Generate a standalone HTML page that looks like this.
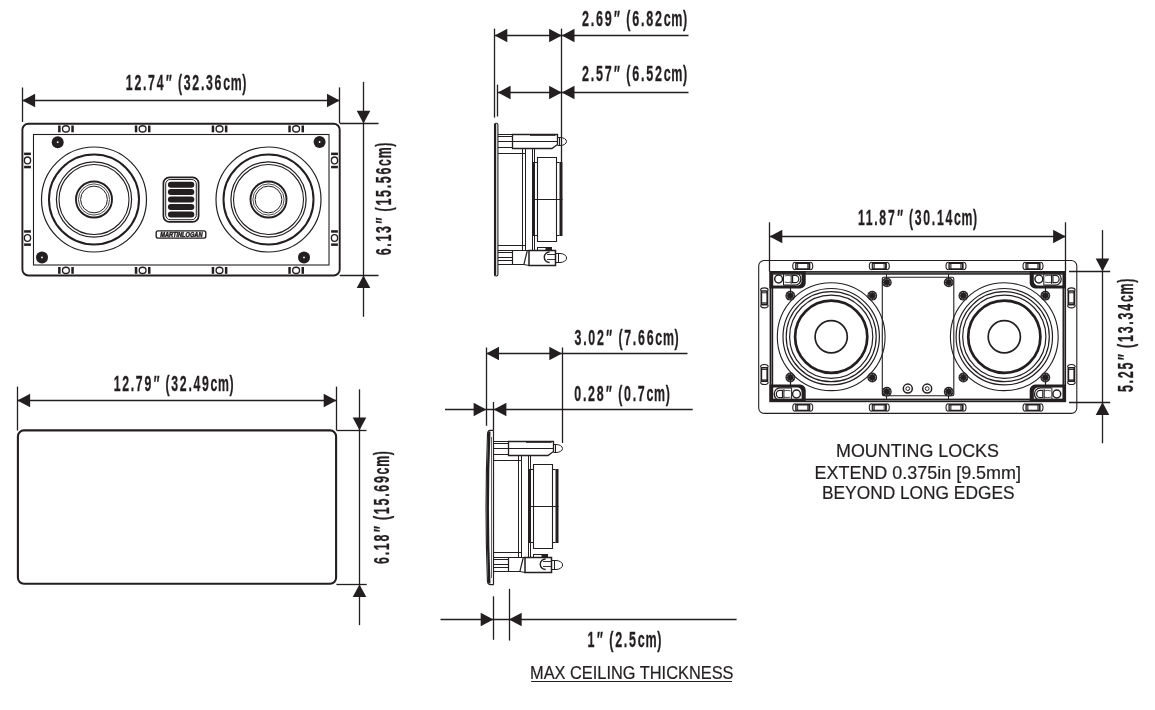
<!DOCTYPE html><html><head><meta charset="utf-8"><style>html,body{margin:0;padding:0;background:#fff;}svg{display:block;will-change:transform;}text{font-family:"Liberation Sans",sans-serif;fill:#231f20;}</style></head><body>
<svg width="1155" height="710" viewBox="0 0 1155 710">
<rect width="1155" height="710" fill="#fff"/>
<defs>
<g id="ioi"><rect x="-7.8" y="-3.4" width="2.5" height="6.8" fill="#231f20"/><rect x="5.4" y="-3.4" width="2.5" height="6.8" fill="#231f20"/><ellipse cx="0" cy="0" rx="3.4" ry="3.1" fill="none" stroke="#231f20" stroke-width="1.35"/></g>
<g id="scr"><circle r="6" fill="#231f20"/><circle r="0.9" fill="#fff"/></g>
<g id="slot"><path d="M-7.4 -3.8 A2.6 3.8 0 0 0 -7.4 3.8 M7.4 -3.8 A2.6 3.8 0 0 1 7.4 3.8" fill="none" stroke="#231f20" stroke-width="1.1"/><path d="M-7.6 -3.9 H7.6 V3.9 H-7.6 Z M-4.6 -2 V2.2 H4.4 V-2 Z" fill="#231f20" fill-rule="evenodd"/><rect x="-6.5" y="-2" width="1.2" height="4.2" fill="#888"/><rect x="4.6" y="-2" width="1.2" height="4.2" fill="#888"/></g>
<g id="bolt"><circle r="4.9" fill="#231f20"/><circle r="3.4" fill="none" stroke="#ccc" stroke-width="0.6" stroke-dasharray="1.6 1.1"/></g>
</defs>
<line x1="22.50" y1="87.50" x2="22.50" y2="122.00" stroke="#231f20" stroke-width="1.30"/>
<line x1="339.50" y1="87.40" x2="339.50" y2="123.10" stroke="#231f20" stroke-width="1.30"/>
<line x1="22.40" y1="100.50" x2="339.70" y2="100.50" stroke="#231f20" stroke-width="1.30"/>
<polygon points="22.4,100.5 35.1,93.7 35.1,107.3" fill="#231f20"/>
<polygon points="339.7,100.5 327.0,93.7 327.0,107.3" fill="#231f20"/>
<text transform="matrix(0.5703,0,0,1,125.82,90.05)" font-size="21.60" font-weight="bold" letter-spacing="3.00" stroke="#231f20" stroke-width="0.30">12.74<tspan font-style="italic">″</tspan> (32.36<tspan letter-spacing="1.20">c</tspan><tspan letter-spacing="1.00">m</tspan>)</text>
<line x1="339.70" y1="123.50" x2="378.50" y2="123.50" stroke="#231f20" stroke-width="1.30"/>
<line x1="339.70" y1="275.50" x2="378.50" y2="275.50" stroke="#231f20" stroke-width="1.30"/>
<line x1="363.50" y1="81.90" x2="363.50" y2="316.80" stroke="#231f20" stroke-width="1.30"/>
<polygon points="363.5,123.4 356.7,110.7 370.3,110.7" fill="#231f20"/>
<polygon points="363.5,275.4 356.7,288.1 370.3,288.1" fill="#231f20"/>
<g transform="translate(390.85,254.90) rotate(-90)"><text transform="matrix(0.5747,0,0,1,-0.45,0)" font-size="21.60" font-weight="bold" letter-spacing="3.00" stroke="#231f20" stroke-width="0.30">6.13<tspan font-style="italic">″</tspan> (15.56<tspan letter-spacing="1.20">c</tspan><tspan letter-spacing="1.00">m</tspan>)</text></g>
<rect x="22.4" y="123.7" width="317.3" height="151.8" rx="6" fill="none" stroke="#231f20" stroke-width="1.9"/>
<rect x="33.5" y="134.5" width="295.5" height="130.5" fill="none" stroke="#231f20" stroke-width="1.1"/>
<use href="#ioi" x="65.9" y="128.9"/>
<use href="#ioi" x="65.9" y="270.4"/>
<use href="#ioi" x="142.6" y="128.9"/>
<use href="#ioi" x="142.6" y="270.4"/>
<use href="#ioi" x="219.5" y="128.9"/>
<use href="#ioi" x="219.5" y="270.4"/>
<use href="#ioi" x="296.1" y="128.9"/>
<use href="#ioi" x="296.1" y="270.4"/>
<use href="#ioi" transform="translate(27.5,160.4) rotate(90)"/>
<use href="#ioi" transform="translate(334.5,160.4) rotate(90)"/>
<use href="#ioi" transform="translate(27.5,238.0) rotate(90)"/>
<use href="#ioi" transform="translate(334.5,238.0) rotate(90)"/>
<use href="#scr" x="57.7" y="142.2"/>
<use href="#scr" x="319.6" y="142.0"/>
<use href="#scr" x="42.0" y="257.4"/>
<use href="#scr" x="304.0" y="257.4"/>
<circle cx="94.0" cy="199.5" r="52.5" fill="none" stroke="#231f20" stroke-width="1.2"/>
<circle cx="94.0" cy="199.5" r="45.0" fill="none" stroke="#231f20" stroke-width="2.0"/>
<circle cx="94.0" cy="199.5" r="37.6" fill="none" stroke="#231f20" stroke-width="1.2"/>
<circle cx="94.0" cy="199.5" r="35.0" fill="none" stroke="#231f20" stroke-width="1.1"/>
<circle cx="94.0" cy="199.5" r="18.0" fill="none" stroke="#231f20" stroke-width="1.9"/>
<circle cx="94.0" cy="199.5" r="15.6" fill="none" stroke="#231f20" stroke-width="0.8"/>
<circle cx="94.0" cy="199.5" r="13.4" fill="none" stroke="#231f20" stroke-width="1.0"/>
<circle cx="268.5" cy="199.5" r="52.5" fill="none" stroke="#231f20" stroke-width="1.2"/>
<circle cx="268.5" cy="199.5" r="45.0" fill="none" stroke="#231f20" stroke-width="2.0"/>
<circle cx="268.5" cy="199.5" r="37.6" fill="none" stroke="#231f20" stroke-width="1.2"/>
<circle cx="268.5" cy="199.5" r="35.0" fill="none" stroke="#231f20" stroke-width="1.1"/>
<circle cx="268.5" cy="199.5" r="18.0" fill="none" stroke="#231f20" stroke-width="1.9"/>
<circle cx="268.5" cy="199.5" r="15.6" fill="none" stroke="#231f20" stroke-width="0.8"/>
<circle cx="268.5" cy="199.5" r="13.4" fill="none" stroke="#231f20" stroke-width="1.0"/>
<rect x="163.4" y="177.3" width="35.2" height="44.6" rx="6" fill="none" stroke="#231f20" stroke-width="1.7"/>
<rect x="165.7" y="179.5" width="30.6" height="40.2" rx="4.5" fill="none" stroke="#231f20" stroke-width="1"/>
<rect x="167.9" y="181.7" width="26.4" height="6" rx="3" fill="#231f20"/>
<rect x="167.9" y="189.1" width="26.4" height="6" rx="3" fill="#231f20"/>
<rect x="167.9" y="196.6" width="26.4" height="6" rx="3" fill="#231f20"/>
<rect x="167.9" y="204.0" width="26.4" height="6" rx="3" fill="#231f20"/>
<rect x="167.9" y="211.5" width="26.4" height="6" rx="3" fill="#231f20"/>
<rect x="156.2" y="230.9" width="49.6" height="7.2" rx="1.8" fill="none" stroke="#231f20" stroke-width="1.4"/>
<text x="160.3" y="236.9" font-size="6.9" font-weight="bold" font-style="italic" stroke="#231f20" stroke-width="0.5" textLength="42.2" lengthAdjust="spacingAndGlyphs">MARTINLOGAN</text>
<line x1="17.50" y1="386.60" x2="17.50" y2="430.50" stroke="#231f20" stroke-width="1.30"/>
<line x1="336.50" y1="386.60" x2="336.50" y2="430.00" stroke="#231f20" stroke-width="1.30"/>
<line x1="17.40" y1="400.50" x2="336.40" y2="400.50" stroke="#231f20" stroke-width="1.30"/>
<polygon points="17.4,400.5 30.1,393.7 30.1,407.3" fill="#231f20"/>
<polygon points="336.4,400.5 323.7,393.7 323.7,407.3" fill="#231f20"/>
<text transform="matrix(0.5675,0,0,1,113.73,391.15)" font-size="21.60" font-weight="bold" letter-spacing="3.00" stroke="#231f20" stroke-width="0.30">12.79<tspan font-style="italic">″</tspan> (32.49<tspan letter-spacing="1.20">c</tspan><tspan letter-spacing="1.00">m</tspan>)</text>
<line x1="336.40" y1="430.50" x2="366.50" y2="430.50" stroke="#231f20" stroke-width="1.30"/>
<line x1="336.40" y1="584.50" x2="366.70" y2="584.50" stroke="#231f20" stroke-width="1.30"/>
<line x1="359.50" y1="389.30" x2="359.50" y2="625.20" stroke="#231f20" stroke-width="1.30"/>
<polygon points="359.5,430.2 352.7,417.5 366.3,417.5" fill="#231f20"/>
<polygon points="359.5,584.4 352.7,597.1 366.3,597.1" fill="#231f20"/>
<g transform="translate(388.85,563.50) rotate(-90)"><text transform="matrix(0.5757,0,0,1,-0.46,0)" font-size="21.60" font-weight="bold" letter-spacing="3.00" stroke="#231f20" stroke-width="0.30">6.18<tspan font-style="italic">″</tspan> (15.69<tspan letter-spacing="1.20">c</tspan><tspan letter-spacing="1.00">m</tspan>)</text></g>
<rect x="17.9" y="430.4" width="318.2" height="153.4" rx="6" fill="none" stroke="#231f20" stroke-width="2.1"/>
<line x1="494.50" y1="28.60" x2="494.50" y2="117.60" stroke="#231f20" stroke-width="1.30"/>
<line x1="497.50" y1="84.60" x2="497.50" y2="116.50" stroke="#231f20" stroke-width="1.30"/>
<line x1="561.50" y1="28.60" x2="561.50" y2="162.00" stroke="#231f20" stroke-width="1.30"/>
<line x1="494.60" y1="35.50" x2="688.50" y2="35.50" stroke="#231f20" stroke-width="1.30"/>
<polygon points="494.6,35.5 507.3,28.7 507.3,42.3" fill="#231f20"/>
<polygon points="561.8,35.5 549.1,28.7 549.1,42.3" fill="#231f20"/>
<polygon points="561.8,35.5 574.5,28.7 574.5,42.3" fill="#231f20"/>
<text transform="matrix(0.5808,0,0,1,581.97,26.45)" font-size="21.60" font-weight="bold" letter-spacing="3.00" stroke="#231f20" stroke-width="0.30">2.69<tspan font-style="italic">″</tspan> (6.82<tspan letter-spacing="1.20">c</tspan><tspan letter-spacing="1.00">m</tspan>)</text>
<line x1="497.90" y1="92.50" x2="688.50" y2="92.50" stroke="#231f20" stroke-width="1.30"/>
<polygon points="497.9,92.5 510.6,85.7 510.6,99.3" fill="#231f20"/>
<polygon points="561.8,92.5 549.1,85.7 549.1,99.3" fill="#231f20"/>
<polygon points="561.8,92.5 574.5,85.7 574.5,99.3" fill="#231f20"/>
<text transform="matrix(0.5808,0,0,1,581.97,81.45)" font-size="21.60" font-weight="bold" letter-spacing="3.00" stroke="#231f20" stroke-width="0.30">2.57<tspan font-style="italic">″</tspan> (6.52<tspan letter-spacing="1.20">c</tspan><tspan letter-spacing="1.00">m</tspan>)</text>
<g transform="translate(0,0)">
<rect x="494.5" y="123.2" width="3.4" height="152.8" rx="1.4" fill="none" stroke="#231f20" stroke-width="1.1"/>
<rect x="494.2" y="124" width="2" height="151.5" fill="#231f20"/>
<path d="M498 134.5 H512.5 M498 136.5 H512.5 M498 141.5 H512.5 M498 147.5 H512.5 M507 141.5 H512" stroke="#231f20" stroke-width="1.00" fill="none"/>
<path d="M512.5 134.5 H557.5 V144.5 L552 148.5 H512.5 Z" stroke="#231f20" stroke-width="1.30" fill="none"/>
<path d="M530 135 H555.5" stroke="#231f20" stroke-width="1.60" fill="none"/>
<path d="M512.5 141.5 H557.5" stroke="#231f20" stroke-width="1.00" fill="none"/>
<path d="M557.5 137.5 H560 A6.5 4 0 0 1 560 145.5 H557.5" stroke="#231f20" stroke-width="1.00" fill="none"/>
<path d="M559.5 137.5 V145.5" stroke="#231f20" stroke-width="1.00" fill="none"/>
<path d="M498 153.5 H525.5" stroke="#231f20" stroke-width="1.00" fill="none"/>
<path d="M522.5 148.5 V250.5 M525.5 148.5 V250.5 M532.5 148.5 V250.5 M534.5 148.5 V162 M534.5 236 V250.5" stroke="#231f20" stroke-width="1.00" fill="none"/>
<path d="M498 245.5 H525.5" stroke="#231f20" stroke-width="1.00" fill="none"/>
<rect x="532" y="162" width="3" height="74" fill="#231f20"/>
<rect x="559.5" y="162" width="3" height="74" fill="#231f20"/>
<path d="M535 162.5 H537.5 M556.5 162.5 H559.5 M535 235.5 H537.5 M556.5 235.5 H559.5" stroke="#231f20" stroke-width="1.00" fill="none"/>
<path d="M537.5 157.5 H556.5 V241.5 H537.5 Z" stroke="#231f20" stroke-width="1.10" fill="none"/>
<path d="M532 199.5 H562.5" stroke="#231f20" stroke-width="1.00" fill="none"/>
<path d="M498 250.5 H512.5 M498 252.5 H512.5 M498 257.5 H512.5 M498 260.5 H512.5 M498 264.5 H512.5" stroke="#231f20" stroke-width="1.00" fill="none"/>
<path d="M512.5 250.5 H527.3 L523.9 264.5 H512.5 Z" stroke="#231f20" stroke-width="1.20" fill="none"/>
<path d="M529 250.5 H555.5 V265.5 H529 Z" stroke="#231f20" stroke-width="1.50" fill="none"/>
<path d="M527.3 250.5 H529 M523.9 264.5 L529 265.5" stroke="#231f20" stroke-width="1.00" fill="none"/>
<path d="M549.6 252 A5.2 5.1 0 0 0 549.6 262.5" stroke="#231f20" stroke-width="1.40" fill="none"/>
<path d="M547 254.5 H555 M547 259.5 H555" stroke="#231f20" stroke-width="0.90" fill="none"/>
<path d="M555.5 253.5 H560 A6.6 4.5 0 0 1 560 262.5 H555.5" stroke="#231f20" stroke-width="1.00" fill="none"/>
<path d="M558.5 253.5 V262.5" stroke="#231f20" stroke-width="1.00" fill="none"/>
<rect x="537.5" y="247.5" width="14" height="3" fill="none" stroke="#231f20" stroke-width="1"/>
<rect x="545.5" y="247.3" width="6" height="3.2" fill="#231f20"/>
</g>
<line x1="486.50" y1="347.50" x2="486.50" y2="425.80" stroke="#231f20" stroke-width="1.30"/>
<line x1="493.50" y1="402.00" x2="493.50" y2="430.00" stroke="#231f20" stroke-width="1.30"/>
<line x1="562.50" y1="347.50" x2="562.50" y2="443.00" stroke="#231f20" stroke-width="1.30"/>
<line x1="486.30" y1="353.50" x2="687.50" y2="353.50" stroke="#231f20" stroke-width="1.30"/>
<polygon points="486.3,353.5 499.0,346.7 499.0,360.3" fill="#231f20"/>
<polygon points="562.0,353.5 549.3,346.7 549.3,360.3" fill="#231f20"/>
<text transform="matrix(0.5744,0,0,1,574.52,345.05)" font-size="21.60" font-weight="bold" letter-spacing="3.00" stroke="#231f20" stroke-width="0.30">3.02<tspan font-style="italic">″</tspan> (7.66<tspan letter-spacing="1.20">c</tspan><tspan letter-spacing="1.00">m</tspan>)</text>
<line x1="445.00" y1="409.50" x2="692.70" y2="409.50" stroke="#231f20" stroke-width="1.30"/>
<polygon points="486.3,409.5 473.6,402.7 473.6,416.3" fill="#231f20"/>
<polygon points="493.7,409.5 506.4,402.7 506.4,416.3" fill="#231f20"/>
<text transform="matrix(0.5746,0,0,1,574.31,400.75)" font-size="21.60" font-weight="bold" letter-spacing="3.00" stroke="#231f20" stroke-width="0.30">0.28<tspan font-style="italic">″</tspan> (0.7<tspan letter-spacing="1.20">c</tspan><tspan letter-spacing="1.00">m</tspan>)</text>
<g transform="translate(-4,307)">
<path d="M498 134.5 H512.5 M498 136.5 H512.5 M498 141.5 H512.5 M498 147.5 H512.5 M507 141.5 H512" stroke="#231f20" stroke-width="1.00" fill="none"/>
<path d="M512.5 134.5 H557.5 V144.5 L552 148.5 H512.5 Z" stroke="#231f20" stroke-width="1.30" fill="none"/>
<path d="M530 135 H555.5" stroke="#231f20" stroke-width="1.60" fill="none"/>
<path d="M512.5 141.5 H557.5" stroke="#231f20" stroke-width="1.00" fill="none"/>
<path d="M557.5 137.5 H560 A6.5 4 0 0 1 560 145.5 H557.5" stroke="#231f20" stroke-width="1.00" fill="none"/>
<path d="M559.5 137.5 V145.5" stroke="#231f20" stroke-width="1.00" fill="none"/>
<path d="M498 153.5 H525.5" stroke="#231f20" stroke-width="1.00" fill="none"/>
<path d="M522.5 148.5 V250.5 M525.5 148.5 V250.5 M532.5 148.5 V250.5 M534.5 148.5 V162 M534.5 236 V250.5" stroke="#231f20" stroke-width="1.00" fill="none"/>
<path d="M498 245.5 H525.5" stroke="#231f20" stroke-width="1.00" fill="none"/>
<rect x="532" y="162" width="3" height="74" fill="#231f20"/>
<rect x="559.5" y="162" width="3" height="74" fill="#231f20"/>
<path d="M535 162.5 H537.5 M556.5 162.5 H559.5 M535 235.5 H537.5 M556.5 235.5 H559.5" stroke="#231f20" stroke-width="1.00" fill="none"/>
<path d="M537.5 157.5 H556.5 V241.5 H537.5 Z" stroke="#231f20" stroke-width="1.10" fill="none"/>
<path d="M532 199.5 H562.5" stroke="#231f20" stroke-width="1.00" fill="none"/>
<path d="M498 250.5 H512.5 M498 252.5 H512.5 M498 257.5 H512.5 M498 260.5 H512.5 M498 264.5 H512.5" stroke="#231f20" stroke-width="1.00" fill="none"/>
<path d="M512.5 250.5 H527.3 L523.9 264.5 H512.5 Z" stroke="#231f20" stroke-width="1.20" fill="none"/>
<path d="M529 250.5 H555.5 V265.5 H529 Z" stroke="#231f20" stroke-width="1.50" fill="none"/>
<path d="M527.3 250.5 H529 M523.9 264.5 L529 265.5" stroke="#231f20" stroke-width="1.00" fill="none"/>
<path d="M549.6 252 A5.2 5.1 0 0 0 549.6 262.5" stroke="#231f20" stroke-width="1.40" fill="none"/>
<path d="M547 254.5 H555 M547 259.5 H555" stroke="#231f20" stroke-width="0.90" fill="none"/>
<path d="M555.5 253.5 H560 A6.6 4.5 0 0 1 560 262.5 H555.5" stroke="#231f20" stroke-width="1.00" fill="none"/>
<path d="M558.5 253.5 V262.5" stroke="#231f20" stroke-width="1.00" fill="none"/>
<rect x="537.5" y="247.5" width="14" height="3" fill="none" stroke="#231f20" stroke-width="1"/>
<rect x="545.5" y="247.3" width="6" height="3.2" fill="#231f20"/>
</g>
<path d="M493.7 430.4 H490 Q487.6 430.6 487.5 434 Q484.6 507.5 487.4 580.5 Q487.6 584.6 490 584.6 H493.7" stroke="#231f20" stroke-width="1.10" fill="none"/>
<path d="M489.3 431.5 Q486.2 507.5 489.3 583.5" stroke="#231f20" stroke-width="2.40" fill="none"/>
<line x1="493.50" y1="430.40" x2="493.50" y2="584.60" stroke="#231f20" stroke-width="1.20"/>
<line x1="491.50" y1="437.00" x2="491.50" y2="578.00" stroke="#231f20" stroke-width="0.70"/>
<line x1="493.50" y1="596.30" x2="493.50" y2="639.80" stroke="#231f20" stroke-width="1.30"/>
<line x1="509.50" y1="588.80" x2="509.50" y2="640.60" stroke="#231f20" stroke-width="1.30"/>
<line x1="440.50" y1="619.50" x2="736.60" y2="619.50" stroke="#231f20" stroke-width="1.30"/>
<polygon points="493.4,619.5 480.7,612.7 480.7,626.3" fill="#231f20"/>
<polygon points="509.0,619.5 521.7,612.7 521.7,626.3" fill="#231f20"/>
<text transform="matrix(0.5795,0,0,1,587.61,646.65)" font-size="21.60" font-weight="bold" letter-spacing="3.00" stroke="#231f20" stroke-width="0.30">1<tspan font-style="italic">″</tspan> (2.5<tspan letter-spacing="1.20">c</tspan><tspan letter-spacing="1.00">m</tspan>)</text>
<text x="530" y="678.9" font-size="18.2" stroke="#231f20" stroke-width="0.2" textLength="203.5" lengthAdjust="spacingAndGlyphs">MAX CEILING THICKNESS</text>
<line x1="531.10" y1="681.50" x2="732.00" y2="681.50" stroke="#231f20" stroke-width="1.00"/>
<line x1="769.50" y1="222.30" x2="769.50" y2="271.50" stroke="#231f20" stroke-width="1.30"/>
<line x1="1065.50" y1="222.30" x2="1065.50" y2="271.50" stroke="#231f20" stroke-width="1.30"/>
<line x1="769.60" y1="236.50" x2="1065.80" y2="236.50" stroke="#231f20" stroke-width="1.30"/>
<polygon points="769.6,236.5 782.3,229.7 782.3,243.3" fill="#231f20"/>
<polygon points="1065.8,236.5 1053.1,229.7 1053.1,243.3" fill="#231f20"/>
<text transform="matrix(0.5670,0,0,1,857.93,225.25)" font-size="21.60" font-weight="bold" letter-spacing="3.00" stroke="#231f20" stroke-width="0.30">11.87<tspan font-style="italic">″</tspan> (30.14<tspan letter-spacing="1.20">c</tspan><tspan letter-spacing="1.00">m</tspan>)</text>
<line x1="1069.00" y1="271.50" x2="1110.20" y2="271.50" stroke="#231f20" stroke-width="1.30"/>
<line x1="1069.00" y1="402.50" x2="1110.20" y2="402.50" stroke="#231f20" stroke-width="1.30"/>
<line x1="1102.50" y1="230.10" x2="1102.50" y2="443.30" stroke="#231f20" stroke-width="1.30"/>
<polygon points="1102.5,271.3 1095.7,258.6 1109.3,258.6" fill="#231f20"/>
<polygon points="1102.5,402.3 1095.7,415.0 1109.3,415.0" fill="#231f20"/>
<g transform="translate(1133.45,391.70) rotate(-90)"><text transform="matrix(0.5784,0,0,1,-0.38,0)" font-size="21.60" font-weight="bold" letter-spacing="3.00" stroke="#231f20" stroke-width="0.30">5.25<tspan font-style="italic">″</tspan> (13.34<tspan letter-spacing="1.20">c</tspan><tspan letter-spacing="1.00">m</tspan>)</text></g>
<rect x="758.7" y="260.5" width="318.1" height="152.9" rx="5.5" fill="none" stroke="#231f20" stroke-width="1.1"/>
<rect x="771.4" y="272.9" width="292.9" height="127.5" fill="none" stroke="#231f20" stroke-width="3.6"/>
<rect x="771.4" y="272.9" width="292.9" height="127.5" fill="none" stroke="#9a9a9a" stroke-width="0.7"/>
<use href="#slot" x="802.75" y="266.0"/>
<use href="#slot" x="802.75" y="407.5"/>
<use href="#slot" x="879.30" y="266.0"/>
<use href="#slot" x="879.30" y="407.5"/>
<use href="#slot" x="956.00" y="266.0"/>
<use href="#slot" x="956.00" y="407.5"/>
<use href="#slot" x="1033.00" y="266.0"/>
<use href="#slot" x="1033.00" y="407.5"/>
<use href="#slot" transform="translate(764.4,297.9) rotate(90)"/>
<use href="#slot" transform="translate(1071.4,297.9) rotate(90)"/>
<use href="#slot" transform="translate(764.4,374.5) rotate(90)"/>
<use href="#slot" transform="translate(1071.4,374.5) rotate(90)"/>
<rect x="882.3" y="277.3" width="71.5" height="118.4" rx="1.5" fill="none" stroke="#231f20" stroke-width="1.1"/>
<use href="#bolt" x="886.8" y="282.4"/>
<use href="#bolt" x="948.7" y="282.4"/>
<use href="#bolt" x="886.8" y="391.7"/>
<use href="#bolt" x="948.7" y="391.7"/>
<line x1="886.50" y1="274.00" x2="886.50" y2="278.00" stroke="#231f20" stroke-width="1.00"/>
<line x1="948.50" y1="274.00" x2="948.50" y2="278.00" stroke="#231f20" stroke-width="1.00"/>
<line x1="886.50" y1="396.00" x2="886.50" y2="399.00" stroke="#231f20" stroke-width="1.00"/>
<line x1="948.50" y1="396.00" x2="948.50" y2="399.00" stroke="#231f20" stroke-width="1.00"/>
<circle cx="907.8" cy="388.6" r="4.5" fill="none" stroke="#231f20" stroke-width="1.5"/><circle cx="907.8" cy="388.6" r="1.9" fill="none" stroke="#231f20" stroke-width="1.0"/>
<circle cx="927.2" cy="388.6" r="4.5" fill="none" stroke="#231f20" stroke-width="1.5"/><circle cx="927.2" cy="388.6" r="1.9" fill="none" stroke="#231f20" stroke-width="1.0"/>
<circle cx="831.2" cy="336.7" r="53.9" fill="none" stroke="#231f20" stroke-width="1.1"/>
<circle cx="831.2" cy="336.7" r="48.2" fill="none" stroke="#231f20" stroke-width="1.2"/>
<circle cx="831.2" cy="336.7" r="45.0" fill="none" stroke="#231f20" stroke-width="1.2"/>
<circle cx="831.2" cy="336.7" r="41.6" fill="none" stroke="#231f20" stroke-width="1.2"/>
<circle cx="831.2" cy="336.7" r="36.1" fill="none" stroke="#231f20" stroke-width="2.7"/>
<circle cx="831.2" cy="336.7" r="16.1" fill="none" stroke="#231f20" stroke-width="1.7"/>
<use href="#bolt" x="790.3" y="295.7"/>
<use href="#bolt" x="872.2" y="295.7"/>
<use href="#bolt" x="790.3" y="377.5"/>
<use href="#bolt" x="872.2" y="377.5"/>
<circle cx="1004.3" cy="336.7" r="53.9" fill="none" stroke="#231f20" stroke-width="1.1"/>
<circle cx="1004.3" cy="336.7" r="48.2" fill="none" stroke="#231f20" stroke-width="1.2"/>
<circle cx="1004.3" cy="336.7" r="45.0" fill="none" stroke="#231f20" stroke-width="1.2"/>
<circle cx="1004.3" cy="336.7" r="41.6" fill="none" stroke="#231f20" stroke-width="1.2"/>
<circle cx="1004.3" cy="336.7" r="36.1" fill="none" stroke="#231f20" stroke-width="2.7"/>
<circle cx="1004.3" cy="336.7" r="16.1" fill="none" stroke="#231f20" stroke-width="1.7"/>
<use href="#bolt" x="963.4" y="295.7"/>
<use href="#bolt" x="1045.3" y="295.7"/>
<use href="#bolt" x="963.4" y="377.5"/>
<use href="#bolt" x="1045.3" y="377.5"/>
<g transform="translate(787.55,279.70) scale(1,1) translate(-18.15,-8.80)">
<path d="M0 0 H36.3 V12 A5.6 5.6 0 0 1 30.7 17.6 H0 Z M3.1 2.5 V14.6 H27.8 A4.4 4.4 0 0 0 32.2 10.2 V2.5 Z" fill="#231f20" fill-rule="evenodd"/>
</g>
<g transform="translate(787.55,279.70) rotate(0) translate(-18.15,-8.80)">
<circle cx="9.2" cy="8.1" r="3.9" fill="none" stroke="#231f20" stroke-width="1.5"/>
<path d="M14.6 1.9 H25.6 A5.9 6.2 0 0 1 25.6 14.3 H14.6" fill="none" stroke="#231f20" stroke-width="1.3"/>
<path d="M23.2 4.4 H25.8 A3.6 3.7 0 0 1 25.8 11.8 H23.2 Z" fill="none" stroke="#231f20" stroke-width="1.2"/>
<path d="M15.2 5 Q18.5 4 22 5 M15.2 11.2 Q18.5 12.2 22 11.2" fill="none" stroke="#231f20" stroke-width="0.8"/>
<path d="M14.1 2 V14.6 M21.8 3.5 V13" fill="none" stroke="#231f20" stroke-width="1.0"/>
</g>
<g transform="translate(1047.85,279.70) scale(-1,1) translate(-18.15,-8.80)">
<path d="M0 0 H36.3 V12 A5.6 5.6 0 0 1 30.7 17.6 H0 Z M3.1 2.5 V14.6 H27.8 A4.4 4.4 0 0 0 32.2 10.2 V2.5 Z" fill="#231f20" fill-rule="evenodd"/>
</g>
<g transform="translate(1047.85,279.70) rotate(0) translate(-18.15,-8.80)">
<circle cx="9.2" cy="8.1" r="3.9" fill="none" stroke="#231f20" stroke-width="1.5"/>
<path d="M14.6 1.9 H25.6 A5.9 6.2 0 0 1 25.6 14.3 H14.6" fill="none" stroke="#231f20" stroke-width="1.3"/>
<path d="M23.2 4.4 H25.8 A3.6 3.7 0 0 1 25.8 11.8 H23.2 Z" fill="none" stroke="#231f20" stroke-width="1.2"/>
<path d="M15.2 5 Q18.5 4 22 5 M15.2 11.2 Q18.5 12.2 22 11.2" fill="none" stroke="#231f20" stroke-width="0.8"/>
<path d="M14.1 2 V14.6 M21.8 3.5 V13" fill="none" stroke="#231f20" stroke-width="1.0"/>
</g>
<g transform="translate(787.55,393.30) scale(1,-1) translate(-18.15,-8.80)">
<path d="M0 0 H36.3 V12 A5.6 5.6 0 0 1 30.7 17.6 H0 Z M3.1 2.5 V14.6 H27.8 A4.4 4.4 0 0 0 32.2 10.2 V2.5 Z" fill="#231f20" fill-rule="evenodd"/>
</g>
<g transform="translate(787.55,393.30) rotate(180) translate(-18.15,-8.80)">
<circle cx="9.2" cy="8.1" r="3.9" fill="none" stroke="#231f20" stroke-width="1.5"/>
<path d="M14.6 1.9 H25.6 A5.9 6.2 0 0 1 25.6 14.3 H14.6" fill="none" stroke="#231f20" stroke-width="1.3"/>
<path d="M23.2 4.4 H25.8 A3.6 3.7 0 0 1 25.8 11.8 H23.2 Z" fill="none" stroke="#231f20" stroke-width="1.2"/>
<path d="M15.2 5 Q18.5 4 22 5 M15.2 11.2 Q18.5 12.2 22 11.2" fill="none" stroke="#231f20" stroke-width="0.8"/>
<path d="M14.1 2 V14.6 M21.8 3.5 V13" fill="none" stroke="#231f20" stroke-width="1.0"/>
</g>
<g transform="translate(1047.85,393.30) scale(-1,-1) translate(-18.15,-8.80)">
<path d="M0 0 H36.3 V12 A5.6 5.6 0 0 1 30.7 17.6 H0 Z M3.1 2.5 V14.6 H27.8 A4.4 4.4 0 0 0 32.2 10.2 V2.5 Z" fill="#231f20" fill-rule="evenodd"/>
</g>
<g transform="translate(1047.85,393.30) rotate(180) translate(-18.15,-8.80)">
<circle cx="9.2" cy="8.1" r="3.9" fill="none" stroke="#231f20" stroke-width="1.5"/>
<path d="M14.6 1.9 H25.6 A5.9 6.2 0 0 1 25.6 14.3 H14.6" fill="none" stroke="#231f20" stroke-width="1.3"/>
<path d="M23.2 4.4 H25.8 A3.6 3.7 0 0 1 25.8 11.8 H23.2 Z" fill="none" stroke="#231f20" stroke-width="1.2"/>
<path d="M15.2 5 Q18.5 4 22 5 M15.2 11.2 Q18.5 12.2 22 11.2" fill="none" stroke="#231f20" stroke-width="0.8"/>
<path d="M14.1 2 V14.6 M21.8 3.5 V13" fill="none" stroke="#231f20" stroke-width="1.0"/>
</g>
<line x1="790.50" y1="288.00" x2="790.50" y2="291.50" stroke="#231f20" stroke-width="1.20"/>
<line x1="1045.50" y1="288.00" x2="1045.50" y2="291.50" stroke="#231f20" stroke-width="1.20"/>
<line x1="790.50" y1="381.50" x2="790.50" y2="385.00" stroke="#231f20" stroke-width="1.20"/>
<line x1="1045.50" y1="381.50" x2="1045.50" y2="385.00" stroke="#231f20" stroke-width="1.20"/>
<text x="836.0" y="456.8" font-size="18.6" stroke="#231f20" stroke-width="0.2" textLength="163.0" lengthAdjust="spacingAndGlyphs">MOUNTING LOCKS</text>
<text x="814.5" y="478.6" font-size="18.6" stroke="#231f20" stroke-width="0.2" textLength="206.5" lengthAdjust="spacingAndGlyphs">EXTEND 0.375in [9.5mm]</text>
<text x="822.0" y="499.4" font-size="18.6" stroke="#231f20" stroke-width="0.2" textLength="192.5" lengthAdjust="spacingAndGlyphs">BEYOND LONG EDGES</text>
</svg></body></html>
